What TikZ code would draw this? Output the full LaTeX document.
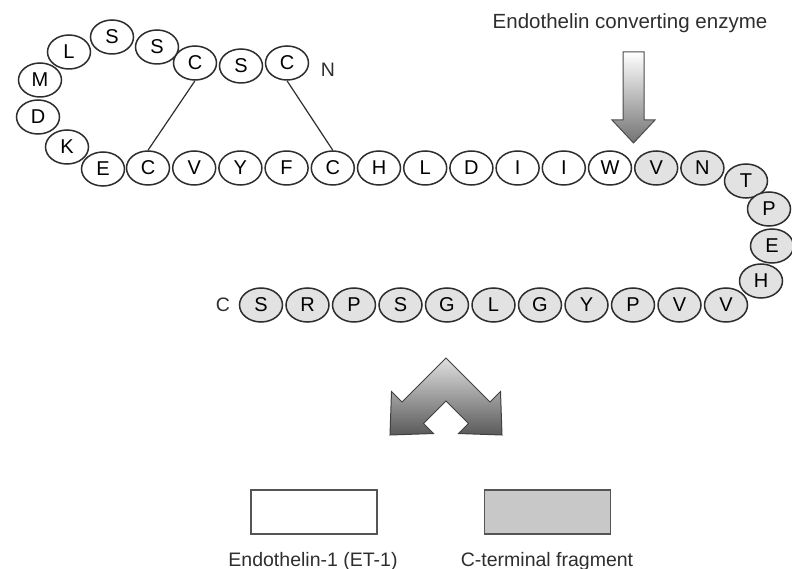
\documentclass[tikz,border=0pt]{standalone}
\usepackage{fontspec}
\setmainfont{Liberation Sans}
\usepackage{tikz}
\usetikzlibrary{shapes.geometric}
\usepackage{xcolor}
\definecolor{EtLine}{HTML}{2E2E2E}
\definecolor{EtGrey}{HTML}{E2E2E2}
\definecolor{EtBox}{HTML}{C8C8C8}
\definecolor{EtEdge}{HTML}{555555}

\begin{document}
\begin{tikzpicture}[x=1pt,y=-1pt,
    res/.style={draw=EtLine,line width=1.5pt,ellipse,fill=white,minimum width=43pt,minimum height=34pt,inner sep=0pt,font=\fontsize{20}{22}\selectfont},
    frag/.style={res,fill=EtGrey},
    lbl/.style={text=EtLine,font=\fontsize{19.5}{22}\selectfont},
    legend/.style={draw=EtEdge,line width=1.2pt,minimum width=126pt,minimum height=44pt,inner sep=0pt}]
        \useasboundingbox (0,0) rectangle (792,569);
        % ET-1: ring part
        \foreach \n/\x/\y/\aa in {1/287/63/C,2/241/66/S,3/195/63/C,4/157/47/S,5/112/37/S,6/69/52/L,7/40/80/M,8/38/117/D,9/67/147/K,10/103/169/E}
          \node[res] (a\n) at (\x,\y) {\aa};
        \foreach \aa [count=\i from 11] in {C,V,Y,F,C,H,L,D,I,I,W}
          \node[res] (a\i) at ({148+46.2*(\i-11)},168) {\aa};
        % C-terminal fragment
        \foreach \aa [count=\i] in {V,N}
          \node[frag] (b\i) at ({656.2+46.2*(\i-1)},168) {\aa};
        \node[frag] (b3) at (746,181) {T};
        \node[frag] (b4) at (769,209) {P};
        \node[frag] (b5) at (772,246) {E};
        \node[frag] (b6) at (761,281) {H};
        \foreach \aa [count=\i from 7] in {V,V,P,Y,G,L,G,S,P,R,S}
          \node[frag] (b\i) at ({726-46.5*(\i-7)},305) {\aa};
        \node[lbl] (nterm) at (328,70) {N};
        \node[lbl] (cterm) at (223,305) {C};
        % disulfide bridges
        \draw[EtLine,line width=1.2pt] (a3.south)--(a11.north);
        \draw[EtLine,line width=1.2pt] (a1.south)--(a15.north);
        % enzyme
        \node[lbl,anchor=base,font=\fontsize{20.5}{24}\selectfont] (ece) at (630,29) {Endothelin converting enzyme};
        \shade[top color=white,bottom color=black!55,draw=black!70,line width=1pt]
          (623,52)--(644,52)--(644,120)--(655,120)--(633.5,143)--(612,120)--(623,120)--cycle;
        % split arrow
        \shade[top color=black!12,bottom color=black!65,draw=black!75,line width=1pt]
          (446,358)--(490,402)--(500.5,391.5)--(502,435)--(458.5,433.5)--(468.5,423.5)--(446,401)
          --(423.5,423.5)--(433.5,433.5)--(390,435)--(391.5,391.5)--(402,402)--cycle;
        % legend
        \node[legend,fill=white] (etbox) at (314,512) {};
        \node[legend,fill=EtBox] (ctbox) at (547.5,512) {};
        \node[lbl,anchor=base] (etlbl) at (313,566) {Endothelin-1 (ET-1)};
        \node[lbl,anchor=base] (ctlbl) at (547,566) {C-terminal fragment};
      \end{tikzpicture}
\end{document}
